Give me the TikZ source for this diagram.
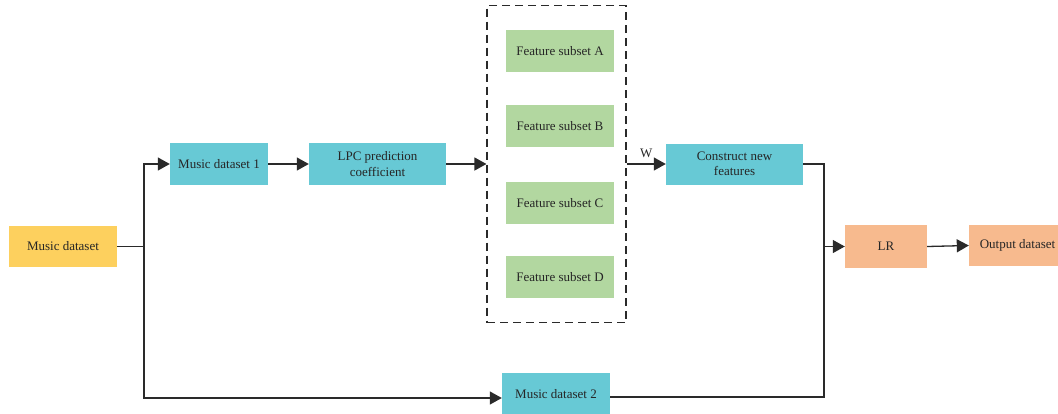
\documentclass[tikz,border=0pt]{standalone}
\usepackage{fontspec}
\setmainfont{Liberation Serif}
\usetikzlibrary{arrows.meta}
\definecolor{cyanbox}{HTML}{67C9D5}
\definecolor{yellowbox}{HTML}{FDD05E}
\definecolor{greenbox}{HTML}{B2D7A0}
\definecolor{orangebox}{HTML}{F7BA8E}
\definecolor{linec}{HTML}{2A2A2A}
\begin{document}
\begin{tikzpicture}[x=1pt,y=-1pt,
  box/.style={fill=#1, inner sep=0pt, align=center, text=black!85,
    font=\fontsize{13}{15.5}\selectfont},
  conn/.style={draw=linec, line width=1.3pt},
  arr/.style={conn, -{Triangle[length=12pt,width=13pt]}}]
\useasboundingbox (0,0) rectangle (1058,413);
\clip (0,0) rectangle (1058,413);
\node[box=yellowbox, minimum width=108pt, minimum height=41pt] (md) at (63,246.5) {Music dataset};
\node[box=cyanbox, minimum width=98pt, minimum height=42pt] (md1) at (219,164) {Music dataset 1};
\node[box=cyanbox, minimum width=137pt, minimum height=42pt] (lpc) at (377.5,164) {LPC prediction\\coefficient};
\node[draw=linec, dashed, dash pattern=on 8pt off 5pt, line width=1.1pt, minimum width=139pt, minimum height=317pt, inner sep=0pt] (dbox) at (556.5,164) {};
\node[box=greenbox, minimum width=108pt, minimum height=42pt] (fa) at (560,51) {Feature subset A};
\node[box=greenbox, minimum width=108pt, minimum height=42pt] (fb) at (560,126) {Feature subset B};
\node[box=greenbox, minimum width=108pt, minimum height=42pt] (fc) at (560,203) {Feature subset C};
\node[box=greenbox, minimum width=108pt, minimum height=42pt] (fd) at (560,277) {Feature subset D};
\node[box=cyanbox, minimum width=137pt, minimum height=41pt] (cnf) at (734.5,164) {Construct new\\features};
\node[box=orangebox, minimum width=82pt, minimum height=43pt] (lr) at (886,246.5) {LR};
\node[box=orangebox, minimum width=97pt, minimum height=41pt] (out) at (1017.5,245.5) {Output dataset};
\node[box=cyanbox, minimum width=108pt, minimum height=42pt] (md2) at (556,394) {Music dataset 2};
\coordinate (j) at (144,246.5);
\coordinate (k) at (824,246.5);
\draw[conn] (md.east) -- (j);
\draw[arr] (j) |- (md1.west);
\draw[arr] (j) |- ([yshift=-4pt]md2.west);
\draw[arr] (md1.east) -- (lpc.west);
\draw[arr] (lpc.east) -- (dbox.west);
\draw[arr] (dbox.east) -- node[above, font=\fontsize{13}{15.5}\selectfont, text=black!85, yshift=2pt] {W} (cnf.west);
\draw[conn] (cnf.east) -| (k);
\draw[conn] (k) |- ([yshift=-3pt]md2.east);
\draw[arr] (k) -- (lr.west);
\draw[arr] (lr.east) -- (out.west);
\end{tikzpicture}
\end{document}
